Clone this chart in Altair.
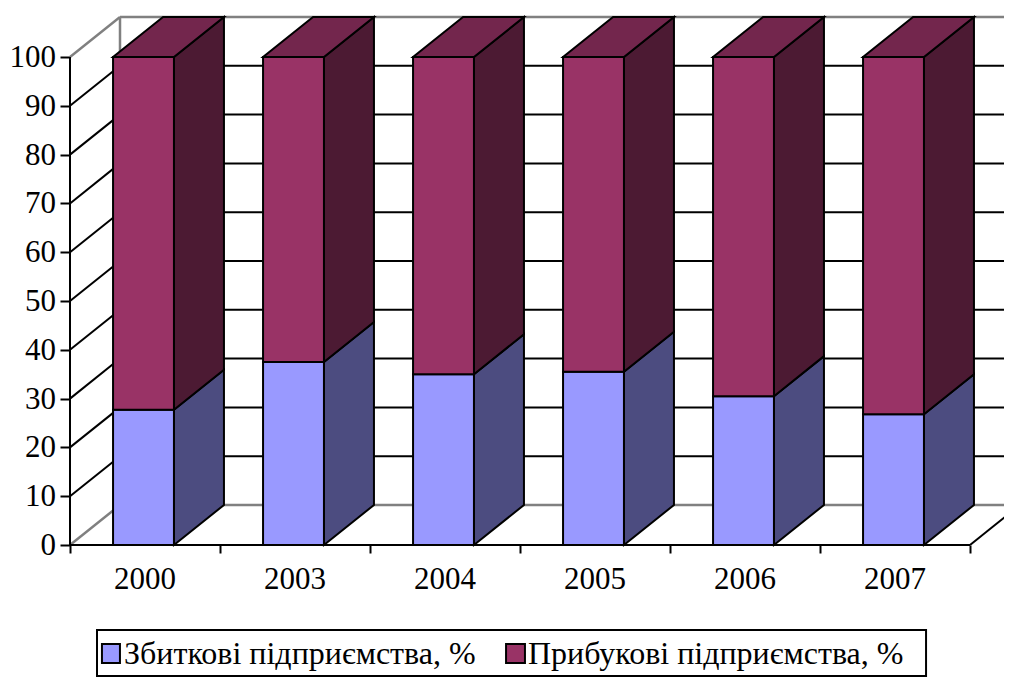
import altair as alt
import pandas as pd

# ---- data ----
years = ["2000", "2003", "2004", "2005", "2006", "2007"]
loss = [27.7, 37.5, 35.0, 35.5, 30.5, 26.8]      # Збиткові підприємства, %
profit = [72.3, 62.5, 65.0, 64.5, 69.5, 73.2]    # Прибукові підприємства, %
series = ["Збиткові підприємства, %", "Прибукові підприємства, %"]
y_ticks = [0, 10, 20, 30, 40, 50, 60, 70, 80, 90, 100]

# ---- 3D geometry / layout (styling) ----
BAR_L, BAR_R = 0.287, 0.693     # bar front face within a category slot
DX, DY = 1 / 3, 8.2             # depth offset (x units, y units)
XMAX, YMAX = 934 / 150, 108.2
N = len(years)
FONT = "Liberation Serif"
FS = 31
FS_LEG = 32
XLAB_Y = -7.2                   # category labels below the floor
LEG_BOX = (0.18, 5.707, -17.42, -26.84)
LEG_SYM = [(0.213, 0.333), (2.907, 3.033)]
LEG_SYM_Y = (-20.29, -24.18)
LEG_TXT_X = [0.36, 3.053]
LEG_TXT_Y = -22.13

front_col = ["#9999FF", "#993366"]
side_col = ["#4C4C80", "#4C1A33"]
top_col = "#73264D"

xs = alt.Scale(domain=[0, XMAX], nice=False, zero=False)
ys = alt.Scale(domain=[0, YMAX], nice=False, zero=False)

front_rows, side_rows, top_rows = [], [], []
for i, yr in enumerate(years):
    segs = [(0, loss[i]), (loss[i], loss[i] + profit[i])]
    for s, (a, b) in enumerate(segs):
        front_rows.append(dict(year=yr, series=series[s], x=i + BAR_L, x2=i + BAR_R, y=a, y2=b))
        bid = f"{yr}-{s}"
        side_rows.append(dict(bid=bid, s=s, x=i + BAR_R, y=a, y2=b))
        side_rows.append(dict(bid=bid, s=s, x=i + BAR_R + DX, y=a + DY, y2=b + DY))
    tot = loss[i] + profit[i]
    top_rows.append(dict(bid=yr, y=tot, x=i + BAR_L, x2=i + BAR_R))
    top_rows.append(dict(bid=yr, y=tot + DY, x=i + BAR_L + DX, x2=i + BAR_R + DX))

front_df = pd.DataFrame(front_rows)
side_df = pd.DataFrame(side_rows)
top_df = pd.DataFrame(top_rows)

black_lines, gray_lines = [], []
for v in y_ticks:
    diag = dict(x=0, x2=DX, y=v, y2=v + DY)
    back = dict(x=DX, x2=XMAX, y=v + DY, y2=v + DY)
    if v in (0, 100):
        gray_lines += [diag, back]
    else:
        black_lines += [diag, back]
gray_lines.append(dict(x=DX, x2=DX, y=DY, y2=100 + DY))          # back wall left edge
black_lines.append(dict(x=0, x2=0, y=0, y2=100))                 # value axis line
black_lines.append(dict(x=0, x2=N, y=0, y2=0))                   # category axis line
black_lines.append(dict(x=N, x2=N + DX, y=0, y2=DY))             # floor right edge
black_df = pd.DataFrame(black_lines)
gray_df = pd.DataFrame(gray_lines)

x_axis = alt.Axis(
    values=list(range(N + 1)), grid=False, domain=False, title=None, labels=False,
    tickColor="black", tickWidth=2, tickSize=8,
)
y_axis = alt.Axis(
    values=y_ticks, grid=False, domain=False, title=None, labels=False,
    tickColor="black", tickWidth=2, tickSize=10,
)

gray = alt.Chart(gray_df).mark_rule(color="#808080", strokeWidth=2.5).encode(
    x=alt.X("x:Q", scale=xs, axis=x_axis), x2="x2:Q",
    y=alt.Y("y:Q", scale=ys, axis=y_axis), y2="y2:Q",
)
black = alt.Chart(black_df).mark_rule(color="black", strokeWidth=2).encode(
    x=alt.X("x:Q", scale=xs), x2="x2:Q",
    y=alt.Y("y:Q", scale=ys), y2="y2:Q",
)

sides = []
for s in range(2):
    sides.append(
        alt.Chart(side_df[side_df.s == s]).mark_area(
            orient="vertical", color=side_col[s], stroke="black", strokeWidth=2, opacity=1
        ).encode(
            x=alt.X("x:Q", scale=xs), y=alt.Y("y:Q", scale=ys), y2="y2:Q", detail="bid:N"
        )
    )

top = alt.Chart(top_df).mark_area(
    orient="horizontal", color=top_col, stroke="black", strokeWidth=2, opacity=1
).encode(
    y=alt.Y("y:Q", scale=ys), x=alt.X("x:Q", scale=xs), x2="x2:Q", detail="bid:N"
)

color_scale = alt.Scale(domain=series, range=front_col)

front = alt.Chart(front_df).mark_rect(stroke="black", strokeWidth=2).encode(
    x=alt.X("x:Q", scale=xs), x2="x2:Q",
    y=alt.Y("y:Q", scale=ys), y2="y2:Q",
    color=alt.Color("series:N", scale=color_scale, legend=None),
)

# axis labels (text marks so the serif font is honoured)
xlab_df = pd.DataFrame({"t": years, "x": [i + 0.5 for i in range(N)], "y": [XLAB_Y] * N})
xlabels = alt.Chart(xlab_df).mark_text(
    font=FONT, fontSize=FS, color="black", align="center", baseline="middle"
).encode(x=alt.X("x:Q", scale=xs), y=alt.Y("y:Q", scale=ys), text="t:N")

ylab_df = pd.DataFrame({"t": [str(v) for v in y_ticks], "y": y_ticks, "x": [0] * len(y_ticks)})
ylabels = alt.Chart(ylab_df).mark_text(
    font=FONT, fontSize=FS, color="black", align="right", baseline="middle", dx=-14, dy=1
).encode(x=alt.X("x:Q", scale=xs), y=alt.Y("y:Q", scale=ys), text="t:N")

# legend
box_df = pd.DataFrame([dict(x=LEG_BOX[0], x2=LEG_BOX[1], y=LEG_BOX[2], y2=LEG_BOX[3])])
leg_box = alt.Chart(box_df).mark_rect(fill="white", stroke="black", strokeWidth=2).encode(
    x=alt.X("x:Q", scale=xs), x2="x2:Q", y=alt.Y("y:Q", scale=ys), y2="y2:Q"
)
sym_df = pd.DataFrame([
    dict(series=series[k], x=LEG_SYM[k][0], x2=LEG_SYM[k][1], y=LEG_SYM_Y[0], y2=LEG_SYM_Y[1])
    for k in range(2)
])
leg_sym = alt.Chart(sym_df).mark_rect(stroke="black", strokeWidth=2).encode(
    x=alt.X("x:Q", scale=xs), x2="x2:Q", y=alt.Y("y:Q", scale=ys), y2="y2:Q",
    color=alt.Color("series:N", scale=color_scale, legend=None),
)
txt_df = pd.DataFrame({"t": series, "x": LEG_TXT_X, "y": [LEG_TXT_Y] * 2})
leg_txt = alt.Chart(txt_df).mark_text(
    font=FONT, fontSize=FS_LEG, color="black", align="left", baseline="middle", dy=1
).encode(x=alt.X("x:Q", scale=xs), y=alt.Y("y:Q", scale=ys), text="t:N")

chart = (
    alt.layer(gray, black, *sides, top, front, xlabels, ylabels, leg_box, leg_sym, leg_txt)
    .properties(
        width=934, height=528,
        autosize=alt.AutoSizeParams(type="none"),
        padding={"left": 62, "top": 9, "right": 0, "bottom": 133},
    )
    .configure_view(stroke=None)
)

chart.save("out.html", embed_options={"renderer": "svg", "actions": False})
